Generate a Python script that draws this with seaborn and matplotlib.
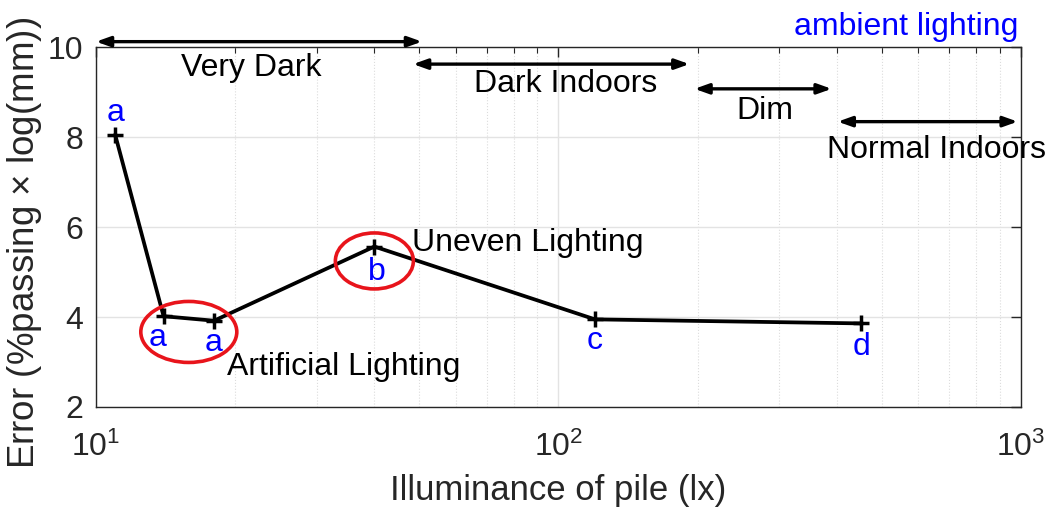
import numpy as np
import pandas as pd
import matplotlib
matplotlib.use("Agg")
import matplotlib.pyplot as plt
import seaborn as sns
from matplotlib.patches import Ellipse
from matplotlib.ticker import LogLocator, NullFormatter, FixedLocator

# Measured error per illuminance level, with significance-group letters
illuminance = [11.0, 14.0, 18.0, 40.0, 120.0, 452.0]
error = [8.06, 4.02, 3.92, 5.57, 3.95, 3.86]
groups = ["a", "a", "a", "b", "c", "d"]

# Ambient-lighting ranges (lx)
range_names = ["Very Dark", "Dark Indoors", "Dim", "Normal Indoors"]
range_lo = [10.0, 48.5, 197.0, 402.0]
range_hi = [50.7, 192.0, 390.0, 985.0]
range_level = [10.13, 9.63, 9.08, 8.35]

df = pd.DataFrame({"illuminance": illuminance, "error": error, "group": groups})

sns.set_theme(style="white")
plt.rcParams["font.family"] = ["Liberation Sans", "DejaVu Sans"]
plt.rcParams["mathtext.fontset"] = "custom"
plt.rcParams["mathtext.rm"] = "Liberation Sans"
plt.rcParams["mathtext.it"] = "Liberation Sans:italic"
plt.rcParams["mathtext.bf"] = "Liberation Sans:bold"

DPI = 100
fig = plt.figure(figsize=(10.47, 5.09), dpi=DPI)
ax = fig.add_axes([0.0917, 0.2004, 0.8832, 0.7063])

sns.lineplot(data=df, x="illuminance", y="error", ax=ax, sort=False,
             color="black", lw=2.7, marker="+", markersize=12,
             markeredgewidth=2.5, markeredgecolor="black", zorder=5)

ax.set_xscale("log")
ax.set_xlim(10, 1000)
ax.set_ylim(2, 10)
ax.set_yticks([2, 4, 6, 8, 10])
ax.xaxis.set_major_locator(FixedLocator([10, 100, 1000]))
ax.xaxis.set_minor_locator(LogLocator(base=10, subs=np.arange(2, 10)))
ax.xaxis.set_minor_formatter(NullFormatter())

# grid: solid major lines, dotted minor lines along x
ax.grid(True, which="major", color="#e3e3e3", lw=1.0, ls="-", zorder=0)
ax.grid(True, which="minor", axis="x", color="#dcdcdc", lw=0.8, ls=":", zorder=0)

for s in ax.spines.values():
    s.set_color("#262626")
    s.set_linewidth(1.0)
ax.tick_params(which="both", direction="in", top=True, right=True,
               colors="#262626", labelcolor="#262626")
ax.tick_params(which="major", length=7, width=1.0, labelsize=23)
ax.tick_params(axis="y", which="major", pad=9)
ax.tick_params(axis="x", which="major", pad=18)
ax.tick_params(which="minor", length=4, width=0.8)

ax.set_xlabel("Illuminance of pile (lx)", fontsize=25, color="#262626", labelpad=8)
ax.set_ylabel("Error (%passing $\\times$ log(mm))", fontsize=26.5, color="#262626")
ax.yaxis.set_label_coords(-0.056, 0.456)

# group letters next to each point
letter_offsets = [(0, 22), (-6, -22), (0, -22), (2, -25), (0, -22), (0, -24)]
for xv, yv, g, off in zip(illuminance, error, groups, letter_offsets):
    ax.annotate(g, (xv, yv), xytext=off, textcoords="offset pixels",
                ha="center", va="center", color="blue", fontsize=23, zorder=6)

# lighting-range arrows with their labels underneath
label_shift = [(-8, -26), (14, -20), (2, -22), (9, -28)]
for name, lo, hi, lev, shift in zip(range_names, range_lo, range_hi, range_level, label_shift):
    ax.annotate("", xy=(hi, lev), xytext=(lo, lev), annotation_clip=False,
                arrowprops=dict(arrowstyle="<|-|>,head_length=0.7,head_width=0.25",
                                color="black", lw=2.4, shrinkA=0, shrinkB=0))
    ax.annotate(name, (np.sqrt(lo * hi), lev), xytext=shift,
                textcoords="offset pixels", ha="center", va="center",
                fontsize=23, color="black", annotation_clip=False)

ax.text(0.998, 1.058, "ambient lighting", transform=ax.transAxes,
        ha="right", va="center", color="blue", fontsize=23)

ax.annotate("Uneven Lighting", (40, 5.57), xytext=(38, 4), textcoords="offset pixels",
            ha="left", va="center", fontsize=23, color="black")
ax.annotate("Artificial Lighting", (18, 3.92), xytext=(13, -46), textcoords="offset pixels",
            ha="left", va="center", fontsize=23, color="black")

# red ellipses around the highlighted groups (sizes in pixels)
fig.canvas.draw()
ax_w = ax.bbox.width
ax_h = ax.bbox.height
circles = [((np.sqrt(14.0 * 18.0), 3.67), 96, 61), ((40.0, 5.25), 78, 56)]
for (cx, cy), w, h in circles:
    fx, fy = ax.transAxes.inverted().transform(ax.transData.transform((cx, cy)))
    ax.add_patch(Ellipse((fx, fy), w / ax_w, h / ax_h, transform=ax.transAxes,
                         fill=False, edgecolor="#e8141b", lw=2.6, zorder=7))

fig.savefig("out.png", dpi=DPI)
